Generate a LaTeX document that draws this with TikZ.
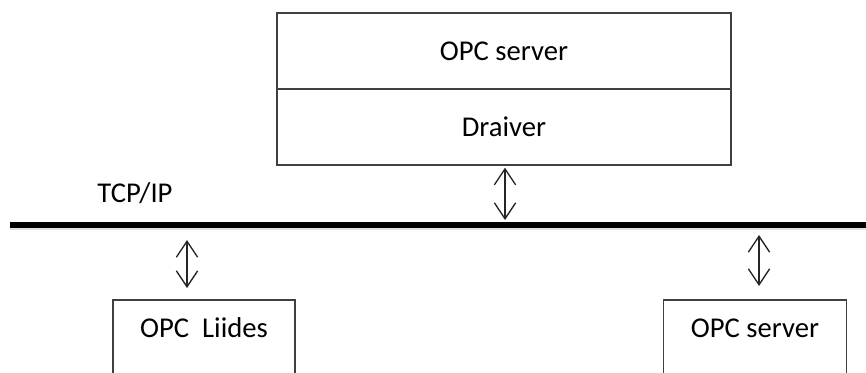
\documentclass[tikz,border=0pt]{standalone}
\usepackage{fontspec}
\setmainfont{Carlito}
\usepackage{tikz}
\usetikzlibrary{positioning,arrows.meta}

\begin{document}
\begin{tikzpicture}[x=0.75pt,y=-0.75pt,
							every node/.style={font=\fontsize{21.5pt}{26pt}\selectfont,inner sep=0pt,outer sep=0pt},
							upbox/.style={draw=black!75,line width=1.2pt,minimum width=340.5pt,minimum height=57pt},
							lowbox/.style={draw=black!75,line width=1.2pt,anchor=base,text height=27.75pt,text depth=60pt},
							link/.style={{Straight Barb[length=12pt,width=16pt]}-{Straight Barb[length=12pt,width=16pt]},line width=1pt,black!85}]
			\clip (0,0) rectangle (866,372);
			% top station
			\node[upbox] (opcsrv) at (504,51) {OPC server};
			\node[upbox,below=0pt of opcsrv] (draiver) {Draiver};
			% bus
			\coordinate (busw) at (10,225);
			\coordinate (buse) at (870,225);
			\draw[line width=3.5pt,black!12] ([yshift=-2.2pt]busw) -- ([yshift=-2.2pt]buse);
			\draw[line width=3.8pt] (busw) -- (buse);
			\node (tcpip) at (135,193) {TCP/IP};
			% lower stations
			\node[lowbox,minimum width=136.5pt] (liides) at (204,337) {OPC\ \ Liides};
			\node[lowbox,minimum width=137.25pt] (opcsrv2) at (755,337) {OPC server};
			% links to the bus
			\coordinate (tapA) at (505,220);
			\coordinate (tapB) at (187,240);
			\coordinate (tapC) at (759,235);
			\draw[link,shorten <=2pt] (tapA |- draiver.south) -- (tapA);
			\draw[link,shorten >=9pt] (tapB) -- (tapB |- liides.north);
			\draw[link,shorten >=10.5pt] (tapC) -- (tapC |- opcsrv2.north);
		\end{tikzpicture}
\end{document}
